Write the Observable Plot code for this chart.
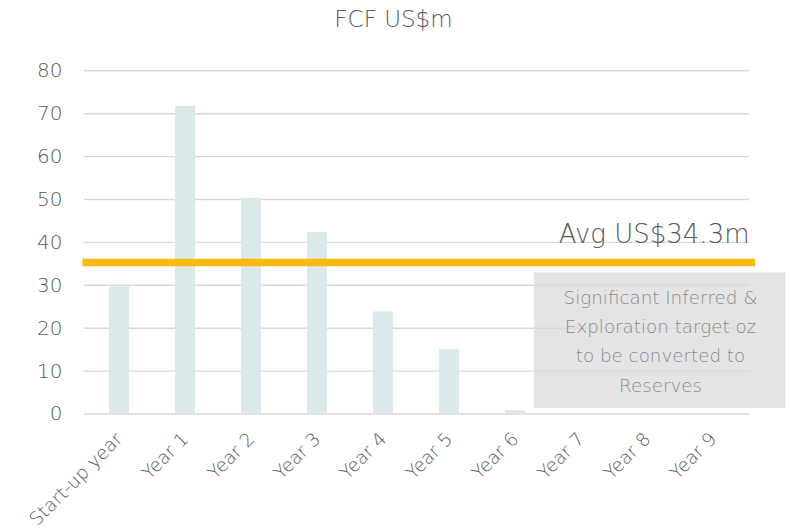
<!DOCTYPE html>
<html>
<head>
<meta charset="utf-8">
<script src="https://cdn.jsdelivr.net/npm/d3@7"></script>
<script src="https://cdn.jsdelivr.net/npm/@observablehq/plot@0.6"></script>
<style>
  html, body { margin: 0; padding: 0; background: #fff; }
  #chart svg { font-family: "DejaVu Sans", sans-serif; font-weight: 200; }
</style>
</head>
<body>
<div id="chart"></div>
<script>
const titleText = "FCF US$m";
const categories = ["Start-up year", "Year 1", "Year 2", "Year 3", "Year 4", "Year 5", "Year 6", "Year 7", "Year 8", "Year 9"];
const fcf = [29.6, 71.7, 50.3, 42.3, 23.8, 15.0, 0.8, 0, 0, 0];
const yTicks = [0, 10, 20, 30, 40, 50, 60, 70, 80];
const avgLineValue = 35.3;
const avgLabel = "Avg US$34.3m";
const noteLines = ["Significant Inferred &", "Exploration target oz", "to be converted to", "Reserves"];
const noteRange = [1.3, 32.9];

const data = categories.map((c, i) => ({ category: c, value: fcf[i] }));
const FONT = "'DejaVu Sans', sans-serif";

const chart = Plot.plot({
  width: 791,
  height: 530,
  marginLeft: 84,
  marginRight: 42,
  marginTop: 70.3,
  marginBottom: 116.5,
  style: { fontFamily: FONT, background: "#fff" },
  x: { domain: categories, paddingInner: 0.69, paddingOuter: 0.345, label: null },
  y: { domain: [0, 80], label: null },
  marks: [
    Plot.ruleY(yTicks, { stroke: "#d9d9d9", strokeWidth: 1.4 }),
    Plot.barY(data, { x: "category", y: "value", fill: "#dce9ea" }),
    Plot.ruleY([avgLineValue], { stroke: "#f9b90f", strokeWidth: 7.5, insetLeft: -1.5, insetRight: -6 }),
    Plot.text([avgLabel], { frameAnchor: "right", y: () => avgLineValue, text: d => d, textAnchor: "end", dy: -28, fontSize: 26, fill: "#595959", fontWeight: 200 }),
    Plot.barY([noteRange], { x: () => "Year 8", y1: d => d[0], y2: d => d[1], fill: "#d9d9d9", fillOpacity: 0.72, insetLeft: -103, insetRight: -128.4 }),
    Plot.text([noteLines.join("\n")], { x: () => "Year 8", y: () => (noteRange[0] + noteRange[1]) / 2 + 0.9, text: d => d, dx: 13, dy: 1.5, lineHeight: 1.6, fontSize: 18.3, fill: "#8a8a8a", fontWeight: 200 }),
    Plot.text([titleText], { frameAnchor: "top", text: d => d, dx: -23.5, dy: -60, fontSize: 23, fill: "#595959", fontWeight: 200 }),
    Plot.axisY({ ticks: yTicks, tickSize: 0, tickPadding: 22, fontSize: 20, color: "#595959", fontWeight: 200 }),
    Plot.axisX({ tickSize: 0, tickRotate: -45, tickPadding: 22, fontSize: 18.5, color: "#595959", fontWeight: 200 })
  ]
});
document.getElementById("chart").appendChild(chart);
</script>
</body>
</html>
